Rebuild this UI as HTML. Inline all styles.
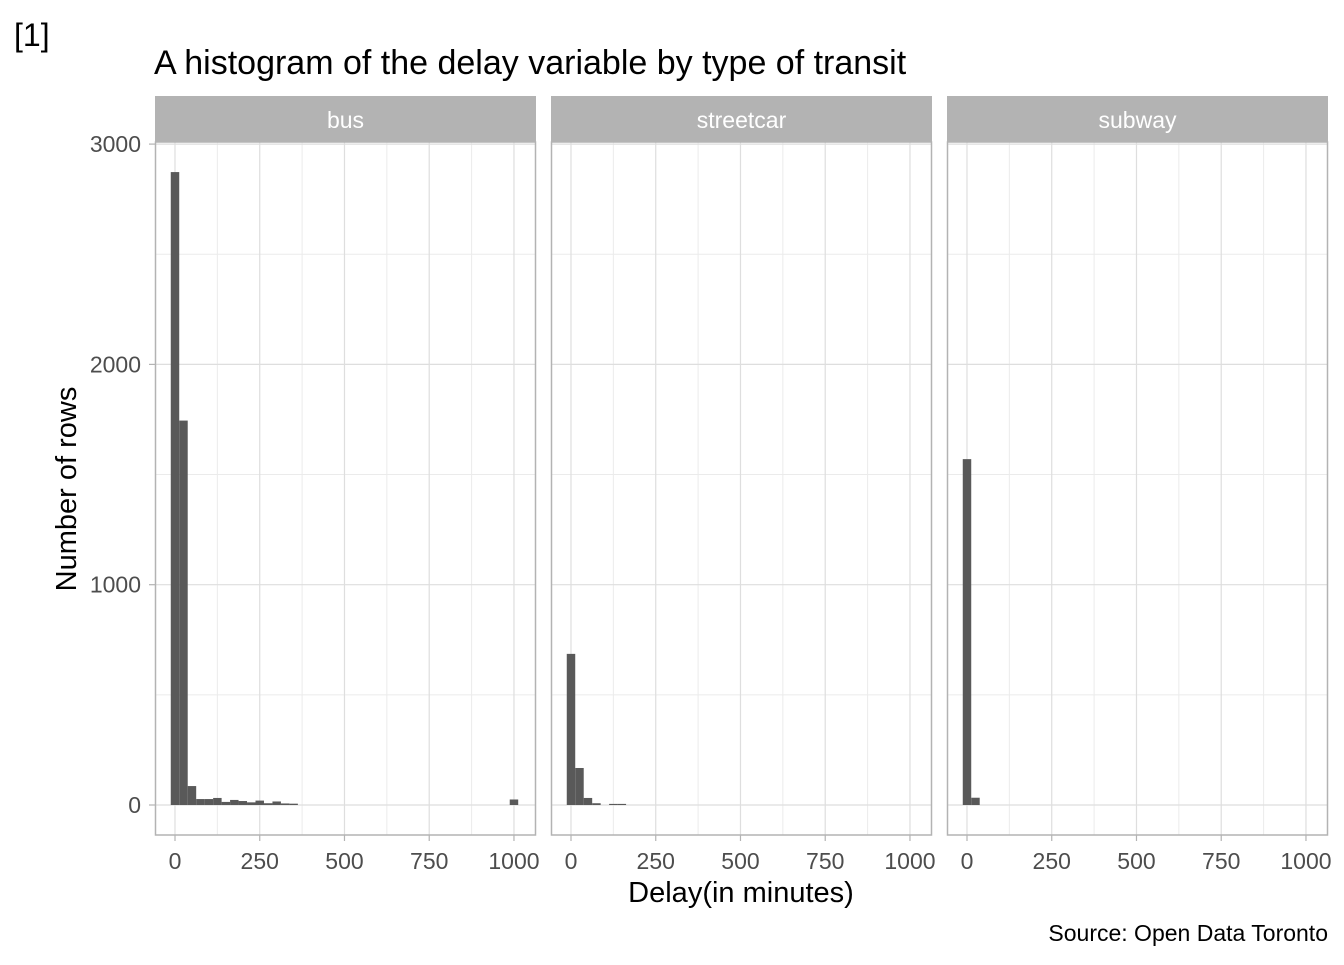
<!DOCTYPE html>
<html><head><meta charset="utf-8"><style>
body{margin:0;background:#fff;font-family:"Liberation Sans",sans-serif;}
</style></head><body>
<svg id="c" width="1344" height="960" xmlns="http://www.w3.org/2000/svg">
<text x="14" y="46" font-size="32" fill="#000">[1]</text>
<text x="154" y="74" font-size="34" fill="#000">A histogram of the delay variable by type of transit</text>
<text transform="translate(76,489) rotate(-90)" text-anchor="middle" font-size="29" fill="#000">Number of rows</text>
<text x="741" y="902" text-anchor="middle" font-size="29" fill="#000">Delay(in minutes)</text>
<text x="1328" y="941" text-anchor="end" font-size="23" fill="#000">Source: Open Data Toronto</text>
</svg>
<script>
const panels = ["bus","streetcar","subway"];
const binWidth = 25;
const busBins = [0,25,50,75,100,125,150,175,200,225,250,275,300,325,350,1000];
const busCounts = [2873,1745,86,27,27,32,14,23,18,12,20,8,16,7,6,25];
const streetcarBins = [0,25,50,75,125,150];
const streetcarCounts = [686,168,32,8,5,5];
const subwayBins = [0,25];
const subwayCounts = [1570,33];
const yTicks = [0,1000,2000,3000];
const yMinor = [500,1500,2500];
const xTicks = [0,250,500,750,1000];
const xMinor = [125,375,625,875];
const binsByPanel = [busBins, streetcarBins, subwayBins];
const countsByPanel = [busCounts, streetcarCounts, subwayCounts];

const svgRoot = document.getElementById('c');
const NS = "http://www.w3.org/2000/svg";
const panelX = [155,551,947], panelW = 381, plotTop = 142, plotBottom = 835;
const xDom = [-59, 1065];
function yS(v){ return 805 - v*0.2203; }
function xS(p,v){ return panelX[p] + (v - xDom[0]) * panelW/(xDom[1]-xDom[0]); }
function el(t, a){ const e=document.createElementNS(NS,t); for(const k in a) e.setAttribute(k,a[k]); svgRoot.appendChild(e); return e; }

panels.forEach((name,p)=>{
  const x0 = panelX[p];
  const bg = el('rect',{x:x0,y:plotTop,width:panelW,height:plotBottom-plotTop,fill:'#fff'});
  
  
  yMinor.forEach(v=>{ const l=el('line',{x1:x0,x2:x0+panelW,y1:yS(v),y2:yS(v),stroke:'#ebebeb','stroke-width':1});
      });
  xMinor.forEach(v=>{ const l=el('line',{x1:xS(p,v),x2:xS(p,v),y1:plotTop,y2:plotBottom,stroke:'#ebebeb','stroke-width':1});
      });
  yTicks.forEach(v=>{ const l=el('line',{x1:x0,x2:x0+panelW,y1:yS(v),y2:yS(v),stroke:'#dedede','stroke-width':1.2});
      });
  xTicks.forEach(v=>{ const l=el('line',{x1:xS(p,v),x2:xS(p,v),y1:plotTop,y2:plotBottom,stroke:'#dedede','stroke-width':1.2});
     
    const tk=el('line',{x1:xS(p,v),x2:xS(p,v),y1:plotBottom,y2:plotBottom+6,stroke:'#b3b3b3','stroke-width':1.2});
     
    const t=el('text',{x:xS(p,v),y:869,'text-anchor':'middle','font-size':23,fill:'#4d4d4d'}); t.textContent=v;
      });
  const bins = binsByPanel[p], counts = countsByPanel[p];
  bins.forEach((b,i)=>{
    const xa = xS(p,b-binWidth/2), xb = xS(p,b+binWidth/2);
    const r = el('rect',{x:xa,y:yS(counts[i]),width:xb-xa,height:yS(0)-yS(counts[i]),fill:'#595959'});
    
    
  });
  const border = el('rect',{x:x0+0.5,y:plotTop,width:panelW-1,height:plotBottom-plotTop,fill:'none',stroke:'#b3b3b3','stroke-width':1.5});
  
  
  const strip = el('rect',{x:x0,y:96,width:panelW,height:46,fill:'#b3b3b3'});
  
  
  const st = el('text',{x:x0+panelW/2,y:128,'text-anchor':'middle','font-size':23,fill:'#fff'}); st.textContent=name;
  
  
});
yTicks.forEach(v=>{
  const tk=el('line',{x1:149,x2:155,y1:yS(v),y2:yS(v),stroke:'#b3b3b3','stroke-width':1.2});
   
  const t=el('text',{x:141,y:yS(v)+8,'text-anchor':'end','font-size':23,fill:'#4d4d4d'}); t.textContent=v;
   
});
</script>
</body></html>
